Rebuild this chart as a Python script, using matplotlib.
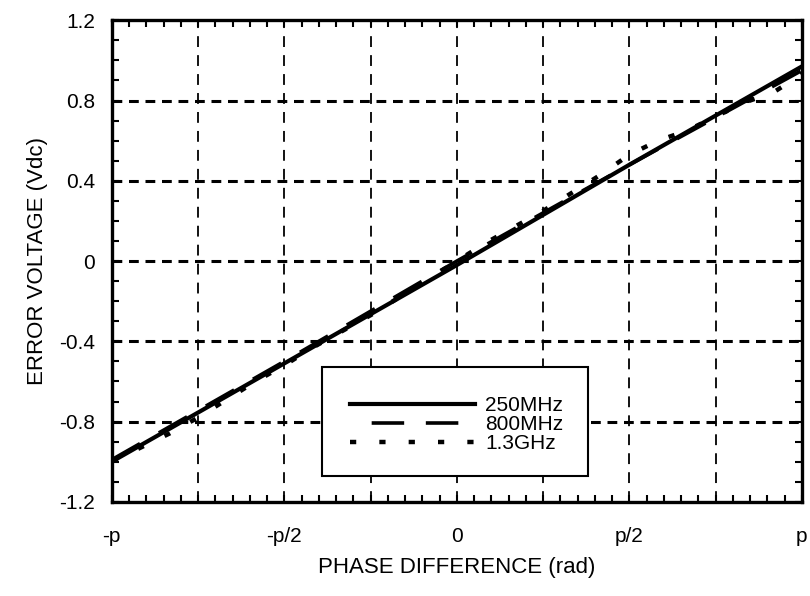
import numpy as np
import matplotlib
matplotlib.use("Agg")
import matplotlib.pyplot as plt
from matplotlib.patches import Rectangle
from matplotlib.ticker import MultipleLocator, FixedLocator

plt.rcParams["font.family"] = ["Liberation Sans", "DejaVu Sans"]

# phase in units of pi
phase_250 = [-1.0, -0.5, 0.0, 0.5, 1.0]
err_250 = [-1.00, -0.51, -0.02, 0.48, 0.97]

phase_800 = [-1.0, -0.5, 0.0, 0.5, 1.0]
err_800 = [-0.99, -0.50, 0.00, 0.48, 0.95]

phase_13 = [k / 12 for k in range(-12, 13)]
err_13 = [-1.00, -0.93, -0.86, -0.78, -0.69, -0.60, -0.52, -0.43, -0.35,
          -0.27, -0.18, -0.09, 0.00, 0.09, 0.17, 0.25, 0.34, 0.43, 0.53,
          0.60, 0.65, 0.72, 0.79, 0.84, 0.93]

x_ticks = [-1.0, -0.75, -0.5, -0.25, 0.0, 0.25, 0.5, 0.75, 1.0]
x_labels = ["-p", "", "-p/2", "", "0", "", "p/2", "", "p"]
y_ticks = [-1.2, -0.8, -0.4, 0.0, 0.4, 0.8, 1.2]
y_labels = ["-1.2", "-0.8", "-0.4", "0", "0.4", "0.8", "1.2"]

fig = plt.figure(figsize=(8.1, 5.96), dpi=100)
ax = fig.add_axes([0.138, 0.158, 0.852, 0.808])

ax.plot(phase_250, err_250, color="black", lw=3.0, label="250MHz", zorder=5)
ax.plot(phase_800, err_800, color="black", lw=2.6, dashes=(9, 6), label="800MHz", zorder=5)
ax.plot(phase_13, err_13, color="black", lw=3.2, dashes=(1.4, 5.2), label="1.3GHz", zorder=5)

ax.set_xlim(-1, 1)
ax.set_ylim(-1.2, 1.2)
ax.xaxis.set_major_locator(FixedLocator(x_ticks))
ax.set_xticklabels(x_labels)
ax.xaxis.set_minor_locator(MultipleLocator(0.05))
ax.set_yticks(y_ticks)
ax.set_yticklabels(y_labels)
ax.yaxis.set_minor_locator(MultipleLocator(0.1))

ax.tick_params(which="both", direction="in", top=True, right=True, width=1.5)
ax.tick_params(which="major", length=5, labelsize=15)
ax.tick_params(which="minor", length=5)
ax.tick_params(axis="x", pad=18)
ax.tick_params(axis="y", pad=12)

for s in ax.spines.values():
    s.set_linewidth(2.4)

# grid
for xv in x_ticks[1:-1]:
    ax.axvline(xv, color="black", lw=1.3, dashes=(6, 4.5), zorder=1)
for yv in y_ticks[1:-1]:
    ax.axhline(yv, color="black", lw=2.2, dashes=(3.2, 2.2), zorder=1)

ax.set_xlabel("PHASE DIFFERENCE (rad)", fontsize=16, labelpad=8)
ax.set_ylabel("ERROR VOLTAGE (Vdc)", fontsize=16, labelpad=8)

box = Rectangle((0.304, 0.054), 0.386, 0.226, transform=ax.transAxes,
                facecolor="white", edgecolor="black", lw=1.5, zorder=6)
ax.add_patch(box)
leg = ax.legend(loc="center", bbox_to_anchor=(0.50, 0.16), frameon=False,
                fontsize=15, handlelength=6.0, handletextpad=0.5,
                labelspacing=0.0, borderpad=0)
leg.set_zorder(7)
leg.get_lines()[1].set_linestyle((9, (9, 6)))

fig.savefig("out.png", dpi=100)
